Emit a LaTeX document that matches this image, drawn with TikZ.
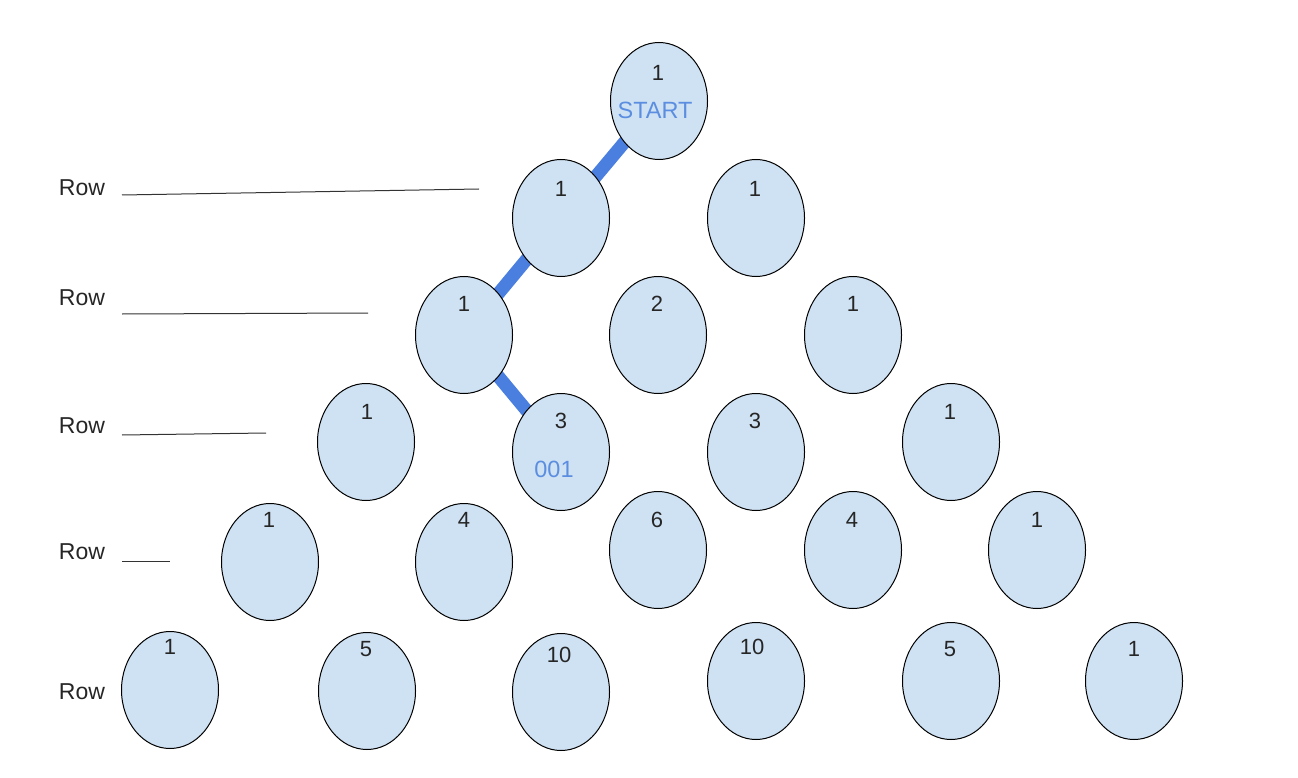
\documentclass[tikz,border=0pt]{standalone}
\usepackage{fontspec}
\setmainfont{Liberation Sans}
\usetikzlibrary{shapes.geometric,backgrounds}
\definecolor{cellfill}{HTML}{CFE2F3}
\definecolor{pathblue}{HTML}{4A7FE0}
\definecolor{txtblue}{HTML}{5B8DE0}
\tikzset{
  cell/.style={ellipse,draw=black,line width=1pt,fill=cellfill,minimum width=97pt,minimum height=117pt,inner sep=0pt},
  num/.style={font=\fontsize{22}{26}\selectfont,text=black!85,inner sep=0pt},
  bluetxt/.style={font=\fontsize{23.5}{28}\selectfont,text=txtblue,inner sep=0pt},
  rowtxt/.style={font=\fontsize{23}{27}\selectfont,text=black!85,inner sep=0pt},
  rule/.style={draw=black!80,line width=1pt},
  pathseg/.style={draw=pathblue,line width=13pt}
}
\begin{document}
\begin{tikzpicture}[x=1pt,y=-1pt]
\useasboundingbox (0,0) rectangle (1298,778);
% ellipses
\node[cell] (e00) at (659,101) {};
\node[cell] (e10) at (561,218) {};
\node[cell] (e11) at (756,218) {};
\node[cell] (e20) at (464,335) {};
\node[cell] (e21) at (658,335) {};
\node[cell] (e22) at (853,335) {};
\node[cell] (e30) at (366,442) {};
\node[cell] (e31) at (561,452) {};
\node[cell] (e32) at (756,452) {};
\node[cell] (e33) at (951,442) {};
\node[cell] (e40) at (270,562) {};
\node[cell] (e41) at (464,562) {};
\node[cell] (e42) at (658,550) {};
\node[cell] (e43) at (853,550) {};
\node[cell] (e44) at (1037,550) {};
\node[cell] (e50) at (170,690) {};
\node[cell] (e51) at (367,691) {};
\node[cell] (e52) at (561,692) {};
\node[cell] (e53) at (756,681) {};
\node[cell] (e54) at (951,681) {};
\node[cell] (e55) at (1134,681) {};
% blue path behind
\begin{scope}[on background layer]
\draw[pathseg] (e00.center) -- (e10.center);
\draw[pathseg] (e10.center) -- (e20.center);
\draw[pathseg] (e20.center) -- (e31.center);
\end{scope}
% numbers
\node[num] (t00) at (658,73) {1};
\node[bluetxt] (s00) at (655,110) {START};
\node[num] (t10) at (561,189) {1};
\node[num] (t11) at (755,189) {1};
\node[num] (t20) at (464,304) {1};
\node[num] (t21) at (657,304) {2};
\node[num] (t22) at (853,304) {1};
\node[num] (t30) at (367,412) {1};
\node[num] (t31) at (561,421) {3};
\node[bluetxt] (s31) at (554,469) {001};
\node[num] (t32) at (755,421) {3};
\node[num] (t33) at (950,412) {1};
\node[num] (t40) at (269,520) {1};
\node[num] (t41) at (464,520) {4};
\node[num] (t42) at (657,520) {6};
\node[num] (t43) at (852,520) {4};
\node[num] (t44) at (1037,520) {1};
\node[num] (t50) at (170,647) {1};
\node[num] (t51) at (366,649) {5};
\node[num] (t52) at (559,655) {10};
\node[num] (t53) at (752,647) {10};
\node[num] (t54) at (950,649) {5};
\node[num] (t55) at (1134,649) {1};
% row labels
\node[rowtxt] (r1) at (82,188) {Row};
\node[rowtxt] (r2) at (82,298) {Row};
\node[rowtxt] (r3) at (82,426) {Row};
\node[rowtxt] (r4) at (82,552) {Row};
\node[rowtxt] (r5) at (82,692) {Row};
% rule lines
\coordinate (l1a) at (122,195); \coordinate (l1b) at (479,189);
\coordinate (l2a) at (122,314); \coordinate (l2b) at (368,313);
\coordinate (l3a) at (122,435); \coordinate (l3b) at (266,433);
\coordinate (l4a) at (122,561); \coordinate (l4b) at (170,561);
\draw[rule] (l1a) -- (l1b);
\draw[rule] (l2a) -- (l2b);
\draw[rule] (l3a) -- (l3b);
\draw[rule] (l4a) -- (l4b);
\end{tikzpicture}
\end{document}
